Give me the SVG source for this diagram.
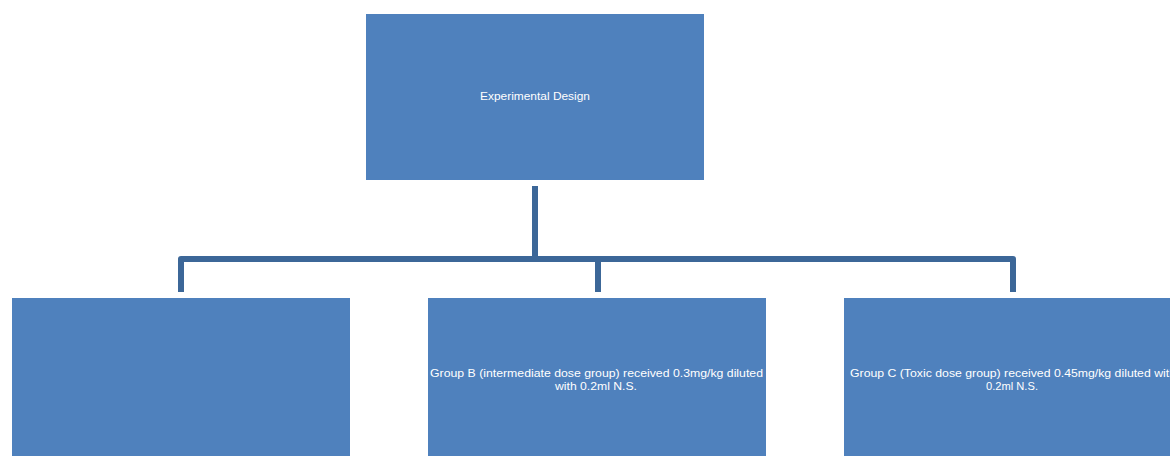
<svg xmlns="http://www.w3.org/2000/svg" width="1170" height="456" viewBox="0 0 1170 456">
<style>
.box{fill:#4F81BD;}
.lbl{font-family:"Liberation Sans",Arial,sans-serif;font-size:11px;fill:#FFFFFF;text-anchor:middle;}
.conn{fill:none;stroke:#3C6798;stroke-width:6;stroke-linejoin:round;}
</style>
<rect width="1170" height="456" fill="#FFFFFF"/>
<g id="connectors">
<path class="conn" d="M535,186 V259"/>
<path class="conn" d="M181,292 V259 H1013 V292"/>
<path class="conn" d="M598,259 V292"/>
</g>
<g id="node-design">
<rect class="box" x="366" y="14" width="338" height="166"/>
<text class="lbl" x="535" y="100" textLength="110" lengthAdjust="spacingAndGlyphs">Experimental Design</text>
</g>
<g id="node-groupA">
<rect class="box" x="12" y="298" width="338" height="170"/>
</g>
<g id="node-groupB">
<rect class="box" x="428" y="298" width="338" height="170"/>
<text class="lbl" x="596.5" y="377" textLength="333" lengthAdjust="spacingAndGlyphs">Group B (intermediate dose group) received 0.3mg/kg diluted</text>
<text class="lbl" x="596" y="390" textLength="82" lengthAdjust="spacingAndGlyphs">with 0.2ml N.S.</text>
</g>
<g id="node-groupC">
<rect class="box" x="844" y="298" width="338" height="170"/>
<text class="lbl" x="1013" y="377" textLength="326" lengthAdjust="spacingAndGlyphs">Group C (Toxic dose group) received 0.45mg/kg diluted with</text>
<text class="lbl" x="1012" y="390" textLength="52" lengthAdjust="spacingAndGlyphs">0.2ml N.S.</text>
</g>
</svg>
